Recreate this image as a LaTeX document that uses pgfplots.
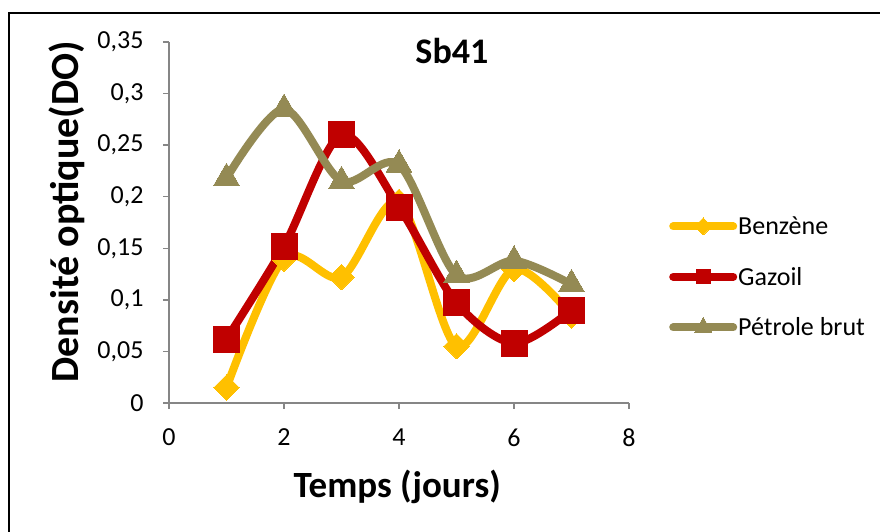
\documentclass[border=0pt]{standalone}
\usepackage{pgfplots}
\pgfplotsset{compat=1.18}
\usepackage{fontspec}
\setmainfont{Carlito}
\definecolor{cY}{HTML}{FFC000}
\definecolor{cR}{HTML}{C00000}
\definecolor{cO}{HTML}{948A54}
\definecolor{axg}{HTML}{868686}
\begin{document}
\begin{tikzpicture}
\begin{axis}[
  at={(169pt,129pt)}, anchor=south west,
  scale only axis, width=460pt, height=361pt,
  xmin=0, xmax=8, ymin=0, ymax=0.35,
  xtick={0,2,4,6,8}, ytick={0,0.05,0.1,0.15,0.2,0.25,0.3,0.35},
  axis lines=left, axis line style={-, axg, line width=1.5pt},
  tick style={axg, line width=1.5pt}, tick align=outside, major tick length=6pt,
  /pgf/number format/.cd, use comma, fixed, precision=2, assume math mode=true, /pgfplots/.cd,
  tick label style={font=\fontsize{26}{30}\selectfont, black},
  yticklabel style={xshift=-16pt},
  xticklabel style={yshift=-16pt},
  title={\textbf{Sb41}}, title style={font=\fontsize{36}{40}\selectfont, at={(axis description cs:0.615,0.958)}, anchor=center},
  xlabel={\textbf{Temps (jours)}}, xlabel style={font=\fontsize{37}{40}\selectfont, at={(axis description cs:0.496,-0.233)}, anchor=center},
  ylabel={\textbf{Densité optique(DO)}}, ylabel style={font=\fontsize{40}{42}\selectfont, at={(axis description cs:-0.222,0.529)}, anchor=center, rotate=0},
  legend style={at={(axis description cs:1.087,0.349)}, anchor=west, draw=none, fill=none,
    font=\fontsize{26}{30}\selectfont, row sep=27pt, inner sep=0pt,
    nodes={inner xsep=1pt},
    /tikz/every even column/.append style={column sep=0pt}},
  legend cell align=left,
  legend image code/.code={
    \draw[#1, line cap=round, mark=none] (0pt,0pt) -- (60pt,0pt);
    \draw[#1, line width=0pt] plot[only marks] coordinates {(30pt,0pt)};
  },
  clip=false,
]
\addplot[forget plot, smooth, cY, line width=8pt, line cap=round, mark=square*, mark size=9pt, mark options={rotate=45, line width=0pt, fill=cY}]
  coordinates {(1,0.015)(2,0.14)(3,0.122)(4,0.195)(5,0.055)(6,0.13)(7,0.085)};
\addplot[forget plot, smooth, cR, line width=8pt, line cap=round, mark=square*, mark size=13pt, mark options={line width=0pt, fill=cR}]
  coordinates {(1,0.062)(2,0.152)(3,0.26)(4,0.19)(5,0.097)(6,0.058)(7,0.09)};
\addplot[forget plot, smooth, cO, line width=8pt, line cap=round, mark=triangle*, mark size=15pt, mark options={line width=0pt, fill=cO}]
  coordinates {(1,0.218)(2,0.285)(3,0.215)(4,0.231)(5,0.124)(6,0.138)(7,0.115)};
\addlegendimage{cY, line width=8pt, mark=square*, mark size=6pt, mark options={rotate=45, fill=cY}}
\addlegendentry{Benzène}
\addlegendimage{cR, line width=8pt, mark=square*, mark size=7pt, mark options={fill=cR}}
\addlegendentry{Gazoil}
\addlegendimage{cO, line width=8pt, mark=triangle*, mark size=10pt, mark options={fill=cO}}
\addlegendentry{Pétrole brut}
\end{axis}
\draw[line width=2.5pt] (9pt,0pt) -- (9pt,519pt) -- (880pt,519pt);
\pgfresetboundingbox
\useasboundingbox (0,0) rectangle (880pt,532pt);
\end{tikzpicture}
\end{document}
